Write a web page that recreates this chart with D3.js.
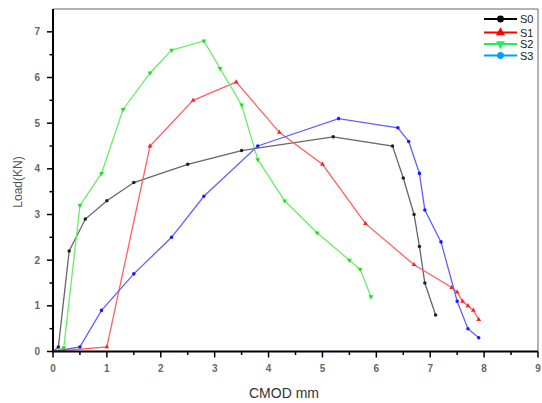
<!DOCTYPE html>
<html><head><meta charset="utf-8">
<script src="https://cdn.jsdelivr.net/npm/d3@7"></script>
<style>body{margin:0;background:#fff}svg{display:block}</style>
</head><body>
<script>
const seriesNames = ["S0","S1","S2","S3"];
const s0 = [[0,0],[0.1,0.1],[0.3,2.2],[0.6,2.9],[1.0,3.3],[1.5,3.7],[2.5,4.1],[3.5,4.4],[5.2,4.7],[6.3,4.5],[6.5,3.8],[6.7,3.0],[6.8,2.3],[6.9,1.5],[7.1,0.8]];
const s1 = [[0,0],[1.0,0.1],[1.8,4.5],[2.6,5.5],[3.4,5.9],[4.2,4.8],[5.0,4.1],[5.8,2.8],[6.7,1.9],[7.4,1.4],[7.5,1.3],[7.6,1.1],[7.7,1.0],[7.8,0.9],[7.9,0.7]];
const s2 = [[0,0],[0.2,0.08],[0.5,3.2],[0.9,3.9],[1.3,5.3],[1.8,6.1],[2.2,6.6],[2.8,6.8],[3.1,6.2],[3.5,5.4],[3.8,4.2],[4.3,3.3],[4.9,2.6],[5.5,2.0],[5.7,1.8],[5.9,1.2]];
const s3 = [[0,0],[0.5,0.1],[0.9,0.9],[1.5,1.7],[2.2,2.5],[2.8,3.4],[3.8,4.5],[5.3,5.1],[6.4,4.9],[6.6,4.6],[6.8,3.9],[6.9,3.1],[7.2,2.4],[7.5,1.1],[7.7,0.5],[7.9,0.3]];
const xTicks = [0,1,2,3,4,5,6,7,8,9];
const yTicks = [0,1,2,3,4,5,6,7];

const W=542,H=403;
const svg=d3.select("body").append("svg").attr("width",W).attr("height",H);
const x=d3.scaleLinear().domain([0,9]).range([53,538]);
const y=d3.scaleLinear().domain([0,7.5]).range([351.5,9]);

// frame top/right
svg.append("path").attr("d",`M${x(0)},${y(7.5)}H${x(9)}V${y(0)}`).attr("fill","none").attr("stroke","#666").attr("stroke-width",1);

const series=[
 {name:"S0",data:s0,line:"#666",mark:"#222",sym:d3.symbolCircle,leg:"#000"},
 {name:"S1",data:s1,line:"#ff6060",mark:"#ff2020",sym:d3.symbolTriangle,leg:"#ff0000"},
 {name:"S2",data:s2,line:"#66ee66",mark:"#22dd22",sym:d3.symbolTriangle,rot:180,leg:"#22ee55"},
 {name:"S3",data:s3,line:"#6060ff",mark:"#1a1aff",sym:d3.symbolCircle,leg:"#00a0ff"}
];
const line=d3.line().x(d=>x(d[0])).y(d=>y(d[1]));
series.forEach(s=>{
  svg.append("path").attr("d",line(s.data)).attr("fill","none").attr("stroke",s.line).attr("stroke-width",1.3);
  svg.selectAll(null).data(s.data.slice(1)).enter().append("path")
    .attr("d",d3.symbol().type(s.sym).size(10))
    .attr("transform",d=>`translate(${x(d[0])},${y(d[1])})${s.rot?" rotate(180)":""}`)
    .attr("fill",s.mark);
});

// axes
const xMinor=d3.range(0.5,9,1), yMinor=d3.range(0.5,7.5,1);
const ax=svg.append("g");
ax.append("line").attr("x1",x(0)).attr("x2",x(9)).attr("y1",y(0)).attr("y2",y(0)).attr("stroke","#000").attr("stroke-width",2);
ax.append("line").attr("x1",x(0)).attr("x2",x(0)).attr("y1",y(0)).attr("y2",y(7.5)).attr("stroke","#000").attr("stroke-width",2);
ax.selectAll(".xt").data(xTicks).enter().append("line").attr("x1",d=>x(d)).attr("x2",d=>x(d)).attr("y1",y(0)).attr("y2",y(0)+6).attr("stroke","#000").attr("stroke-width",1.5);
ax.selectAll(".xm").data(xMinor).enter().append("line").attr("x1",d=>x(d)).attr("x2",d=>x(d)).attr("y1",y(0)).attr("y2",y(0)+3.5).attr("stroke","#000").attr("stroke-width",1.5);
ax.selectAll(".yt").data(yTicks).enter().append("line").attr("y1",d=>y(d)).attr("y2",d=>y(d)).attr("x1",x(0)).attr("x2",x(0)-6).attr("stroke","#000").attr("stroke-width",1.5);
ax.selectAll(".ym").data(yMinor).enter().append("line").attr("y1",d=>y(d)).attr("y2",d=>y(d)).attr("x1",x(0)).attr("x2",x(0)-3.5).attr("stroke","#000").attr("stroke-width",1.5);
ax.selectAll(".xl").data(xTicks).enter().append("text").attr("x",d=>x(d)).attr("y",372).attr("text-anchor","middle")
  .attr("font-family","Liberation Sans, Arial").attr("font-size",10).attr("font-weight","bold").attr("fill","#666").text(d=>d);
ax.selectAll(".yl").data(yTicks).enter().append("text").attr("x",40).attr("y",d=>y(d)+3.5).attr("text-anchor","end")
  .attr("font-family","Liberation Sans, Arial").attr("font-size",10).attr("font-weight","bold").attr("fill","#666").text(d=>d);

svg.append("text").attr("x",284).attr("y",398).attr("text-anchor","middle").attr("font-family","Liberation Sans, Arial")
  .attr("font-size",14).attr("fill","#333").text("CMOD mm");
svg.append("text").attr("transform","translate(22,182) rotate(-90)").attr("text-anchor","middle").attr("font-family","Liberation Sans, Arial")
  .attr("font-size",12).attr("fill","#555").text("Load(KN)");

// legend
const lg=svg.append("g");
const ly=[19,32.5,44,55.5];
series.forEach((s,i)=>{
  lg.append("line").attr("x1",484).attr("x2",517).attr("y1",ly[i]).attr("y2",ly[i]).attr("stroke",s.leg).attr("stroke-width",2);
  lg.append("path").attr("d",d3.symbol().type(s.sym).size(36)).attr("transform",`translate(500.5,${ly[i]})${s.rot?" rotate(180)":""}`).attr("fill",s.leg);
  lg.append("text").attr("x",520).attr("y",ly[i]+4).attr("font-family","Liberation Sans, Arial").attr("font-size",11).attr("fill","#222").text(s.name);
});
</script>
</body></html>
